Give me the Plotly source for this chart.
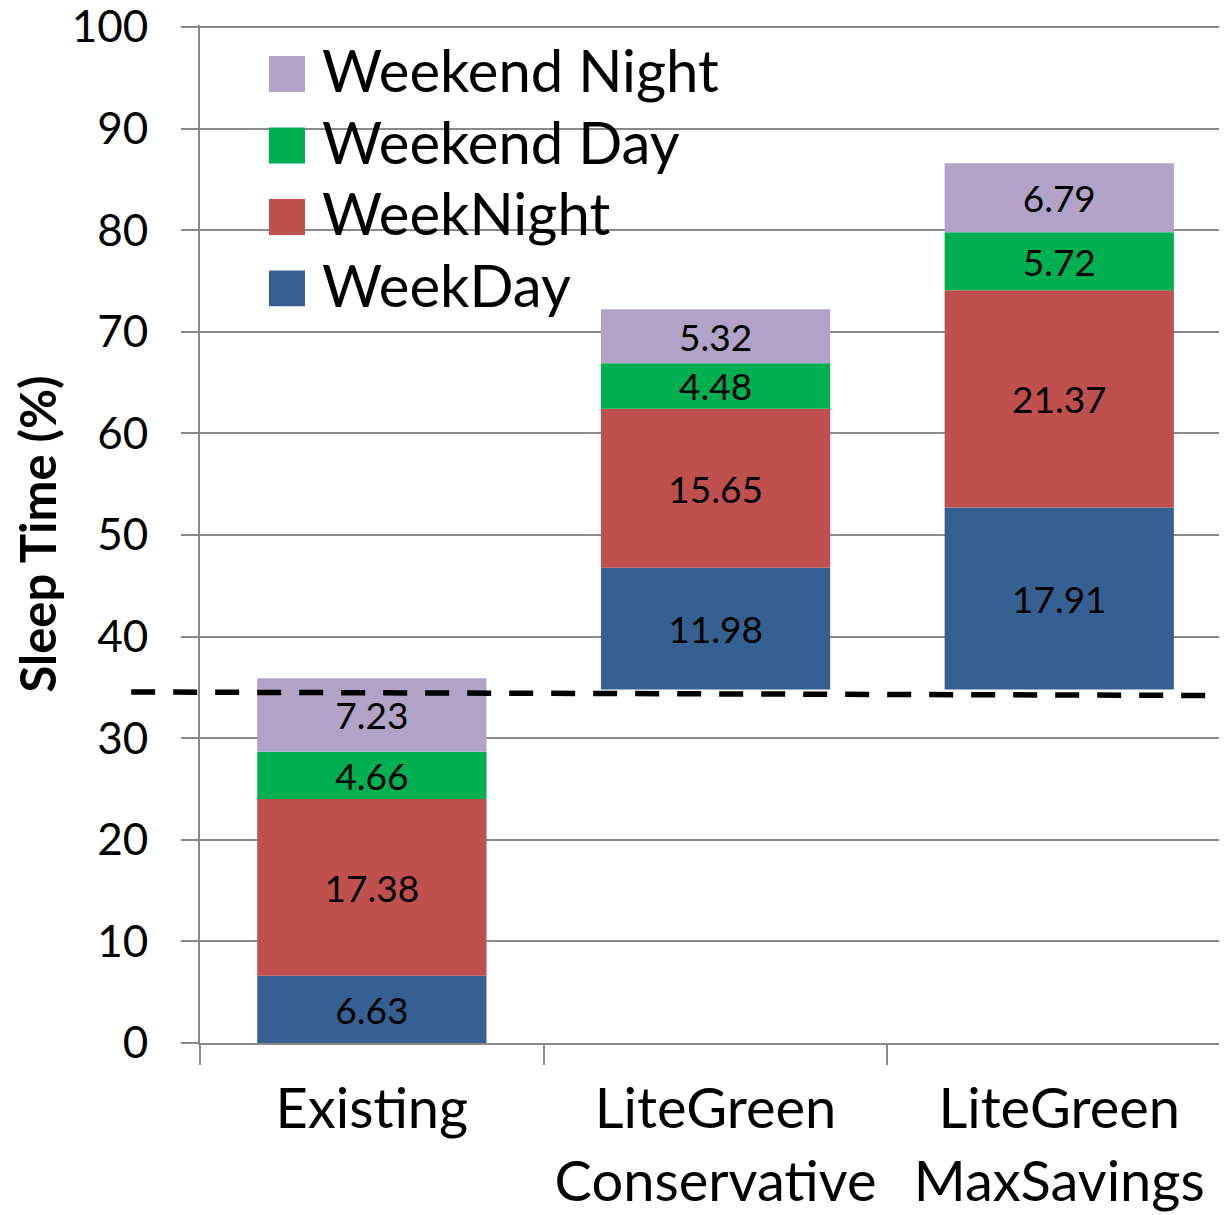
import plotly.graph_objects as go

# ---- data ----
categories = ["Existing", "LiteGreen<br>Conservative", "LiteGreen<br>MaxSavings"]
series_names = ["WeekDay", "WeekNight", "Weekend Day", "Weekend Night"]
weekday = [6.63, 11.98, 17.91]
weeknight = [17.38, 15.65, 21.37]
weekend_day = [4.66, 4.48, 5.72]
weekend_night = [7.23, 5.32, 6.79]
start_base = [0.0, 34.8, 34.8]
dashed_level = [34.55, 34.2]
y_ticks = [0, 10, 20, 30, 40, 50, 60, 70, 80, 90, 100]

colors = ["#376092", "#C0504D", "#00B050", "#B3A2C7"]
FONT = "Lato"
GRAY = "#898989"

series_values = [weekday, weeknight, weekend_day, weekend_night]

fig = go.Figure()
cum = list(start_base)
for name, vals, col in zip(series_names, series_values, colors):
    fig.add_trace(go.Bar(
        x=categories, y=vals, base=list(cum), name=name,
        marker=dict(color=col, line=dict(width=0)),
        width=0.667,
        text=[f"{v:.2f}" for v in vals],
        textposition="inside", insidetextanchor="middle",
        textangle=0, constraintext="none",
        textfont=dict(family=FONT, size=37, color="black"),
        showlegend=False, hoverinfo="skip",
    ))
    cum = [c + v for c, v in zip(cum, vals)]

# dashed reference line
fig.add_shape(type="line", xref="paper", yref="y",
              x0=-0.067, x1=1.0, y0=dashed_level[0], y1=dashed_level[1],
              line=dict(color="black", width=5.5, dash="24px,18px"), layer="above")

# page offset (browser body margin)
OFF = 8
W, H = 1227 - OFF, 1215 - OFF
L, R, T, B = 192, 0, 17, 171.5
pw, ph = W - L - R, H - T - B


def px2paper(px, py):
    fx, fy = px - OFF, py - OFF
    return (fx - L) / pw, (H - B - fy) / ph


# manual legend (top entry first)
for i, (name, col) in enumerate(reversed(list(zip(series_names, colors)))):
    top = 56 + i * 71.5
    x0, y0 = px2paper(269, top)
    x1, y1 = px2paper(305, top + 36)
    fig.add_shape(type="rect", xref="paper", yref="paper",
                  x0=x0, x1=x1, y0=y1, y1=y0,
                  fillcolor=col, line=dict(width=0), layer="above")
    tx, ty = px2paper(320, top + 14)
    fig.add_annotation(xref="paper", yref="paper", x=tx, y=ty,
                       xanchor="left", yanchor="middle", showarrow=False,
                       text=name, font=dict(family=FONT, size=58, color="black"))

fig.update_layout(
    width=W, height=H,
    margin=dict(l=L, r=R, t=T, b=B, autoexpand=False),
    plot_bgcolor="white", paper_bgcolor="white",
    barmode="overlay",
    font=dict(family=FONT, color="black"),
    showlegend=False,
)
fig.update_xaxes(
    type="category", range=[-0.5, 2.488], automargin=False,
    showline=True, linecolor=GRAY, linewidth=2,
    ticks="outside", tickson="boundaries", ticklen=20, tickwidth=2, tickcolor=GRAY,
    showgrid=False,
    ticklabelstandoff=16,
    tickfont=dict(family=FONT, size=56, color="black"),
)
fig.update_yaxes(
    range=[0, 100.2], tickvals=y_ticks, automargin=False,
    showline=True, linecolor=GRAY, linewidth=2,
    ticks="outside", ticklen=17, tickwidth=2, tickcolor=GRAY,
    showgrid=True, gridcolor=GRAY, gridwidth=2, zeroline=False,
    ticklabelstandoff=24, ticklabeloverflow="allow",
    tickfont=dict(family=FONT, size=44, color="black"),
    title=dict(text="Sleep Time (%)", font=dict(family=FONT, size=49, color="black", weight="bold"),
               standoff=23),
)

fig.write_html("out.html")
